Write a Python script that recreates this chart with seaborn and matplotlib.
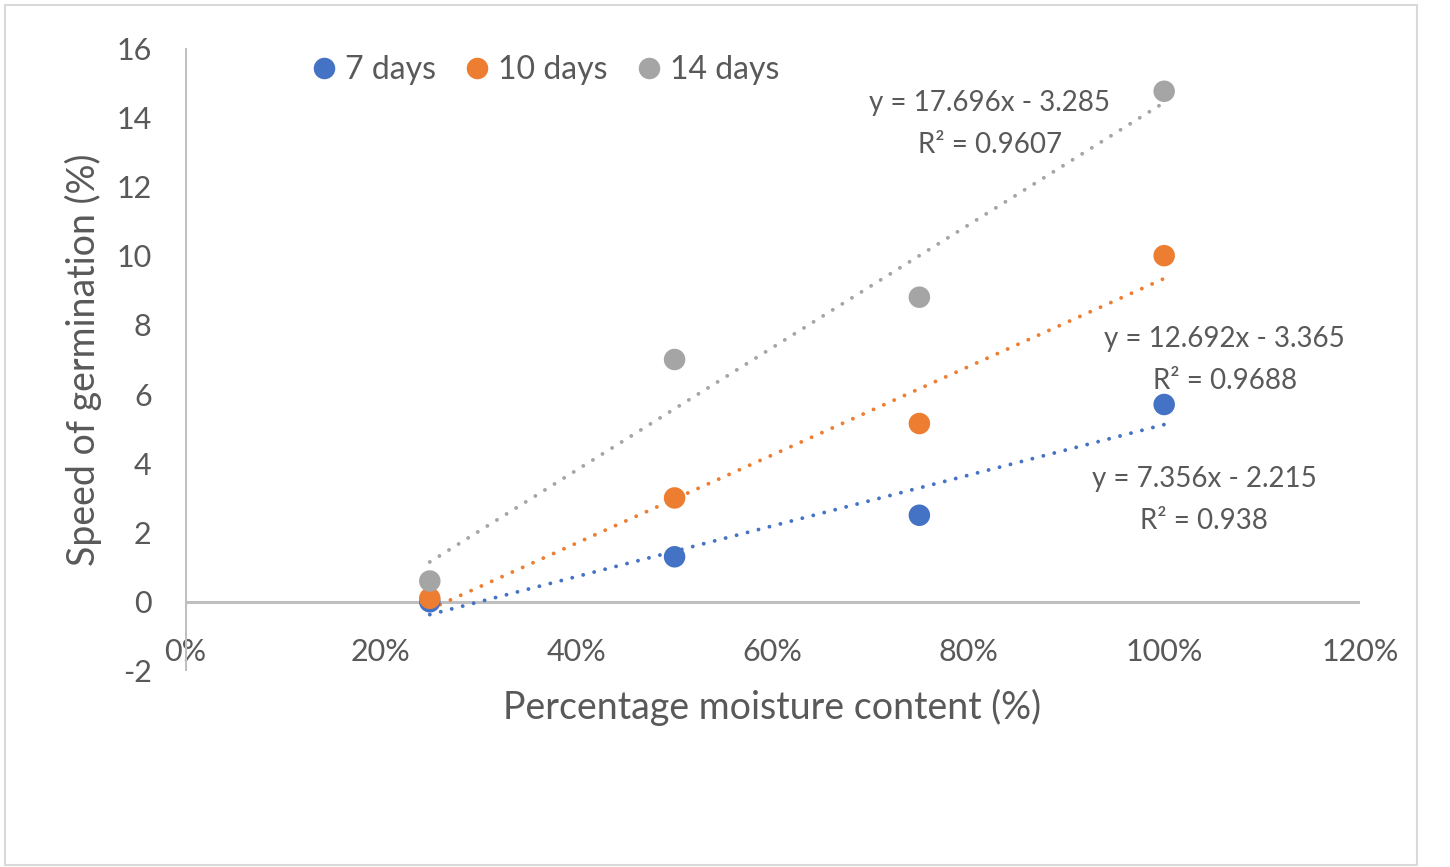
import matplotlib
matplotlib.use("Agg")
import matplotlib.pyplot as plt
import matplotlib.ticker as mticker
from matplotlib.patches import Rectangle
import numpy as np
import pandas as pd
import seaborn as sns

# data
moisture = [0.25, 0.50, 0.75, 1.00]
days_7 = [0.0, 1.3, 2.5, 5.7]
days_10 = [0.1, 3.0, 5.15, 10.0]
days_14 = [0.6, 7.0, 8.8, 14.75]
series_names = ["7 days", "10 days", "14 days"]
colors = ["#4472C4", "#ED7D31", "#A5A5A5"]
eq_texts = ["y = 7.356x - 2.215\nR² = 0.938",
            "y = 12.692x - 3.365\nR² = 0.9688",
            "y = 17.696x - 3.285\nR² = 0.9607"]

df = pd.DataFrame({
    "x": moisture * 3,
    "y": days_7 + days_10 + days_14,
    "series": [s for s in series_names for _ in moisture],
})

sns.set_style("white")
plt.rcParams["font.family"] = ["Lato", "DejaVu Sans"]
plt.rcParams["axes.unicode_minus"] = False
grey_txt = "#595959"
axis_col = "#BFBFBF"

fig = plt.figure(figsize=(14.5, 8.67), dpi=100)
ax = fig.add_axes([185 / 1450, 1 - 671 / 867, 1175 / 1450, 623 / 867])

# trendlines (linear fit, dotted like excel)
for name, c in zip(series_names, colors):
    sub = df[df.series == name]
    sns.regplot(data=sub, x="x", y="y", ax=ax, ci=None, scatter=False, truncate=True,
                line_kws=dict(color=c, lw=2.8, linestyle=(0, (0.01, 2.9)),
                              dash_capstyle="round", zorder=2))

sns.scatterplot(data=df, x="x", y="y", hue="series", palette=colors, s=240,
                edgecolor="none", ax=ax, zorder=3)

ax.set_xlim(0, 1.2)
ax.set_ylim(-2, 16)
ax.set_xticks(np.arange(0, 1.21, 0.2))
ax.set_yticks(np.arange(-2, 16.1, 2))
ax.xaxis.set_major_formatter(mticker.PercentFormatter(1.0, decimals=0))
for s in ax.spines.values():
    s.set_visible(False)
ax.axhline(0, color=axis_col, lw=2.2, zorder=1)
ax.axvline(0, color=axis_col, lw=2.2, zorder=1)
ax.tick_params(length=0, labelsize=22, labelcolor=grey_txt)
ax.tick_params(axis="x", pad=-24)
ax.tick_params(axis="y", pad=24)
ax.set_xlabel("Percentage moisture content (%)", fontsize=27, color=grey_txt, labelpad=13)
ax.set_ylabel("Speed of germination (%)", fontsize=27, color=grey_txt, labelpad=10)

# equation labels
pos = [(1.041, 2.95), (1.062, 6.99), (0.822, 13.8)]
for (tx, ty), t in zip(pos, eq_texts):
    ax.text(tx, ty, t, ha="center", va="center", fontsize=20, color=grey_txt,
            linespacing=1.75)

leg = ax.legend(loc="upper left", bbox_to_anchor=(0.091, 1.02), ncol=3, frameon=False,
                fontsize=23, handlelength=0.8, handletextpad=0.25, columnspacing=0.9,
                markerscale=1.0, borderaxespad=0.2)
for t in leg.get_texts():
    t.set_color(grey_txt)

# chart border
fig.patches.append(Rectangle((5 / 1450, 2 / 867), 1412 / 1450, 860 / 867,
                             transform=fig.transFigure, fill=False,
                             edgecolor="#D9D9D9", lw=1.5))

fig.savefig("out.png", dpi=100)
